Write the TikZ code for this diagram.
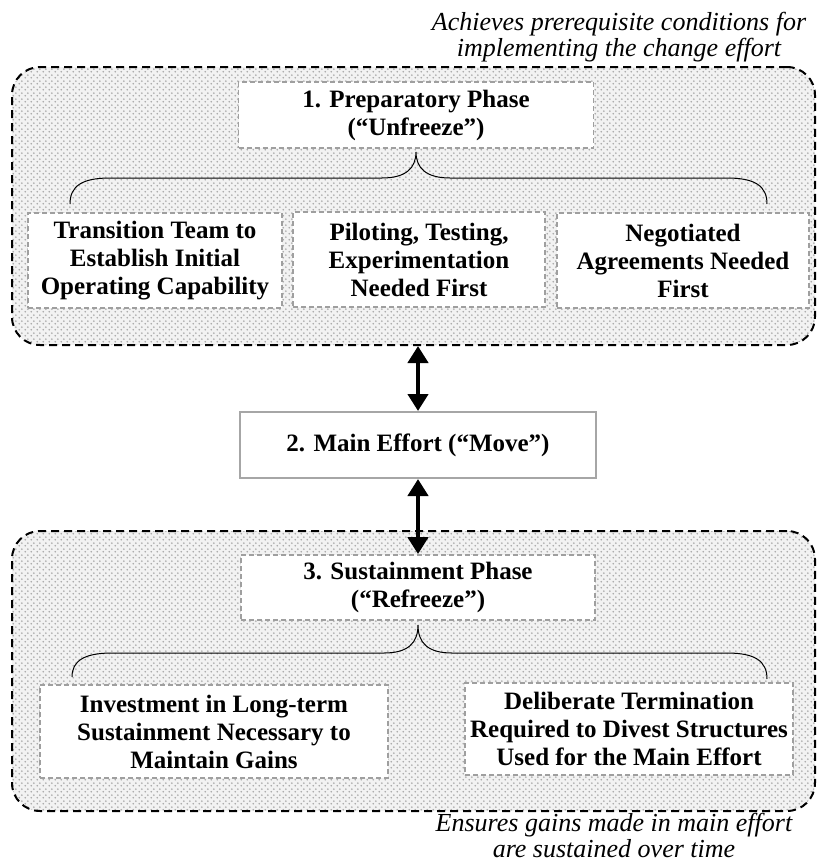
\documentclass[tikz,border=0pt]{standalone}
\usepackage{fontspec}
\setmainfont{Liberation Serif}
\usetikzlibrary{arrows.meta,patterns.meta}
\tikzdeclarepattern{
  name=mydots,
  type=uncolored,
  bounding box={(0pt,0pt) and (6pt,6pt)},
  tile size={(6pt,6pt)},
  code={
    \fill (1.5pt,1.5pt) circle (1.05pt);
    \fill (4.5pt,4.5pt) circle (1.05pt);
  }
}
\tikzset{
  outerbox/.style={draw=black, line width=2pt, dash pattern=on 8pt off 5pt,
    rounded corners=28pt, preaction={fill=gray!10}, pattern=mydots, pattern color=gray!70,
    inner sep=0pt},
  dashbox/.style={draw=gray!75, line width=1.8pt, dash pattern=on 5pt off 3pt,
    fill=white, align=center, inner sep=0pt,
    font=\fontsize{25pt}{28pt}\selectfont\bfseries},
  solidbox/.style={draw=gray!70, line width=2pt, fill=white, align=center, inner sep=0pt,
    font=\fontsize{25pt}{28pt}\selectfont\bfseries},
  caption/.style={align=center, inner sep=0pt, font=\fontsize{26pt}{26pt}\selectfont\itshape},
  bracecurve/.style={draw=black, line width=1pt},
  bigarrow/.style={line width=4.5pt, {Triangle[width=20pt,length=17pt]}-{Triangle[width=20pt,length=17pt]}, shorten <=0pt, shorten >=0pt}
}
\begin{document}
\begin{tikzpicture}[x=1pt,y=-1pt]
\useasboundingbox (0,0) rectangle (817,865);

% outer groups
\node (outerA) [outerbox, minimum width=803pt, minimum height=278pt] at (413.5,206) {};
\node (outerB) [outerbox, minimum width=803pt, minimum height=280pt] at (413.5,671) {};

% captions
\node (capA) [caption] at (619,37) {Achieves prerequisite conditions for\\implementing the change effort};
\node (capB) [caption] at (614,835) {Ensures gains made in main effort\\are sustained over time};

% phase 1
\node (p1) [dashbox, minimum width=355pt, minimum height=66pt] at (416,115) {1. Preparatory Phase\\(“Unfreeze”)};
\node (a1) [dashbox, minimum width=254pt, minimum height=95pt] at (155,260.5) {Transition Team to\\Establish Initial\\Operating Capability};
\node (a2) [dashbox, minimum width=252pt, minimum height=95pt] at (419,259.5) {Piloting, Testing,\\Experimentation\\Needed First};
\node (a3) [dashbox, minimum width=252pt, minimum height=95pt] at (683,260.5) {Negotiated\\Agreements Needed\\First};

% phase 2
\node (p2) [solidbox, minimum width=356pt, minimum height=66pt] at (418,445) {2. Main Effort (“Move”)};

% phase 3
\node (p3) [dashbox, minimum width=354pt, minimum height=65pt] at (418,587.5) {3. Sustainment Phase\\(“Refreeze”)};
\node (b1) [dashbox, minimum width=348pt, minimum height=93pt] at (214,731.5) {Investment in Long-term\\Sustainment Necessary to\\Maintain Gains};
\node (b2) [dashbox, minimum width=328pt, minimum height=92pt] at (629,729) {Deliberate Termination\\Required to Divest Structures\\Used for the Main Effort};

% braces
\coordinate (tA) at ([yshift=-3pt]p1.south);
\coordinate (lA) at (70,204);
\coordinate (rA) at (767,204);
\draw[bracecurve] (lA) .. controls (70,186) and (82,178) .. (110,178) -- (382,178)
  .. controls (406,178) and (416,168) .. (tA)
  .. controls (416,168) and (426,178) .. (450,178) -- (727,178)
  .. controls (755,178) and (767,186) .. (rA);

\coordinate (tB) at ([yshift=-4pt]p3.south);
\coordinate (lB) at (72,677);
\coordinate (rB) at (767,679);
\draw[bracecurve] (lB) .. controls (72,661) and (84,653) .. (112,653) -- (384,653)
  .. controls (408,653) and (418,643) .. (tB)
  .. controls (418,643) and (428,653) .. (452,653) -- (727,653)
  .. controls (755,653) and (767,661) .. (rB);

% arrows
\draw[bigarrow] (p2.north |- outerA.south) -- (p2.north);
\draw[bigarrow] (p2.south) -- (p3.north);
\end{tikzpicture}
\end{document}
